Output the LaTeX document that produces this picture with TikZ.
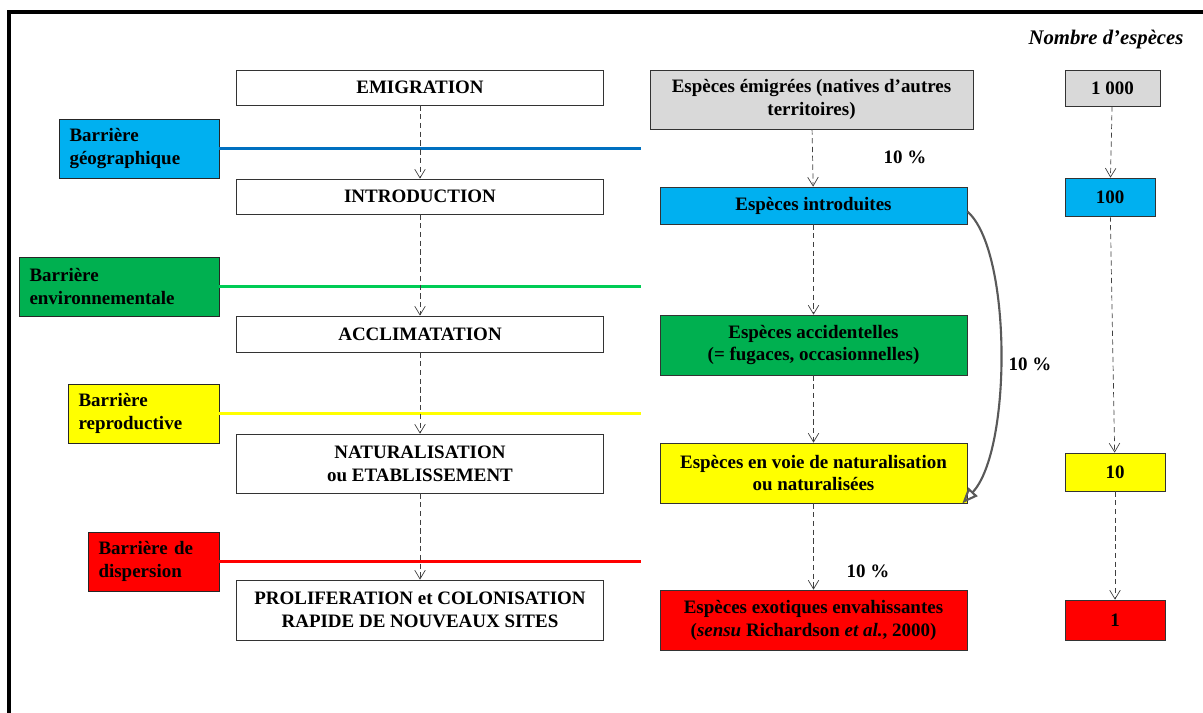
\documentclass[tikz,border=0pt]{standalone}
\usepackage{fontspec}
\setmainfont{Liberation Serif}
\usetikzlibrary{arrows.meta}

\definecolor{bleu}{HTML}{00B0F0}
\definecolor{bleutrait}{HTML}{0070C0}
\definecolor{vert}{HTML}{00B050}
\definecolor{verttrait}{HTML}{00CC55}
\definecolor{jaune}{HTML}{FFFF00}
\definecolor{rouge}{HTML}{FF0000}
\definecolor{gris}{HTML}{D9D9D9}

\begin{document}
\begin{tikzpicture}
[x=0.02cm,y=-0.02cm,%
  every node/.style={shape=rectangle,inner sep=1.5pt,font=\fontsize{10.8}{13}\selectfont\bfseries},%
  etape/.style={draw=black!80,fill=white,minimum width=7.34cm,align=center},%
  espece/.style={draw=black!80,fill=#1,minimum width=6.14cm,align=center},%
  nombre/.style={draw=black!80,fill=#1,align=center},%
  barriere/.style={draw=black!85,fill=#1,minimum height=1.18cm,inner xsep=6pt,align=left},%
  pointille/.style={densely dashed,black!75,thin,-{Straight Barb[length=5pt,width=6pt]}},%
  trait/.style={line width=2.2pt}]
\useasboundingbox (0,0) rectangle (1203,713);
% cadre
\draw[line width=2.6pt] (9,713) -- (9,12) -- (1203,12);

% etapes
\node[etape,minimum height=0.7cm] (emig) at (420,87.5) {EMIGRATION};
\node[etape,minimum height=0.7cm] (intro) at (420,196.5) {INTRODUCTION};
\node[etape,minimum height=0.72cm] (accl) at (420,334) {ACCLIMATATION};
\node[etape,minimum height=1.18cm] (natur) at (420,463.5) {NATURALISATION\\ou ETABLISSEMENT};
\node[etape,minimum height=1.2cm] (prolif) at (420,610) {PROLIFERATION et COLONISATION\\RAPIDE DE NOUVEAUX SITES};

% barrieres
\node[barriere=bleu,text width=2.78cm] (bgeo) at (139,148.5) {Barrière\\géographique};
\node[barriere=vert,text width=3.58cm] (benv) at (119,286.5) {Barrière\\environnementale};
\node[barriere=jaune,text width=2.6cm] (brep) at (143.5,413.5) {Barrière\\reproductive};
\node[barriere=rouge,text width=2.2cm] (bdis) at (153.5,561.5) {Barrière de\\dispersion};
\coordinate (fgeo) at (641,148.5);
\coordinate (fenv) at (641,286.5);
\coordinate (frep) at (641,413.5);
\coordinate (fdis) at (641,561.5);

% especes
\node[espece=gris,minimum width=6.46cm,minimum height=1.18cm] (emigr) at (811.5,99.5) {Espèces émigrées (natives d'autres\\territoires)};
\node[espece=bleu,minimum height=0.74cm] (introd) at (813.5,205.5) {Espèces introduites};
\node[espece=vert,minimum height=1.2cm] (accid) at (813.5,345) {Espèces accidentelles\\(= fugaces, occasionnelles)};
\node[espece=jaune,minimum height=1.2cm] (natura) at (813.5,473) {Espèces en voie de naturalisation\\ou naturalisées};
\node[espece=rouge,minimum height=1.2cm] (envah) at (813.5,620) {Espèces exotiques envahissantes\\(\textit{sensu} Richardson \textit{et al.}, 2000)};

% nombres
\node[font=\fontsize{11.8}{13}\selectfont\bfseries\itshape] (titre) at (1106,40) {Nombre d'espèces};
\node[nombre=gris,minimum width=1.9cm,minimum height=0.72cm] (n1000) at (1112.5,88) {1 000};
\node[nombre=bleu,minimum width=1.8cm,minimum height=0.76cm] (n100) at (1110,197) {100};
\node[nombre=jaune,minimum width=2cm,minimum height=0.76cm] (n10) at (1115,472) {10};
\node[nombre=rouge,minimum width=2cm,minimum height=0.8cm] (n1) at (1115,620) {1};

% pourcentages
\node (p1) at (905,157) {10 \%};
\node (p2) at (1030,364) {10 \%};
\node (p3) at (868,571) {10 \%};

% traits des barrieres
\draw[trait,bleutrait] (bgeo.east) -- (fgeo);
\draw[trait,verttrait] (benv.east) -- (fenv);
\draw[trait,jaune] (brep.east) -- (frep);
\draw[trait,rouge] (bdis.east) -- (fdis);

% fleches
\draw[pointille] (emig) -- (intro);
\draw[pointille] (intro) -- (accl);
\draw[pointille] (accl) -- (natur);
\draw[pointille] (natur) -- (prolif);
\draw[pointille] (emigr) -- (introd);
\draw[pointille] (introd) -- (accid);
\draw[pointille] (accid) -- (natura);
\draw[pointille] (natura) -- (envah);
\draw[pointille] (n1000) -- (n100);
\draw[pointille] (n100) -- (n10);
\draw[pointille] (n10) -- (n1);
\draw[black!65,line width=1.2pt,-{Triangle[open,length=9pt,width=7pt]}]
  ([yshift=-0.12cm]introd.east) .. controls (1012,250) and (1012,450) .. ([xshift=-0.1cm]natura.south east);
\end{tikzpicture}
\end{document}
